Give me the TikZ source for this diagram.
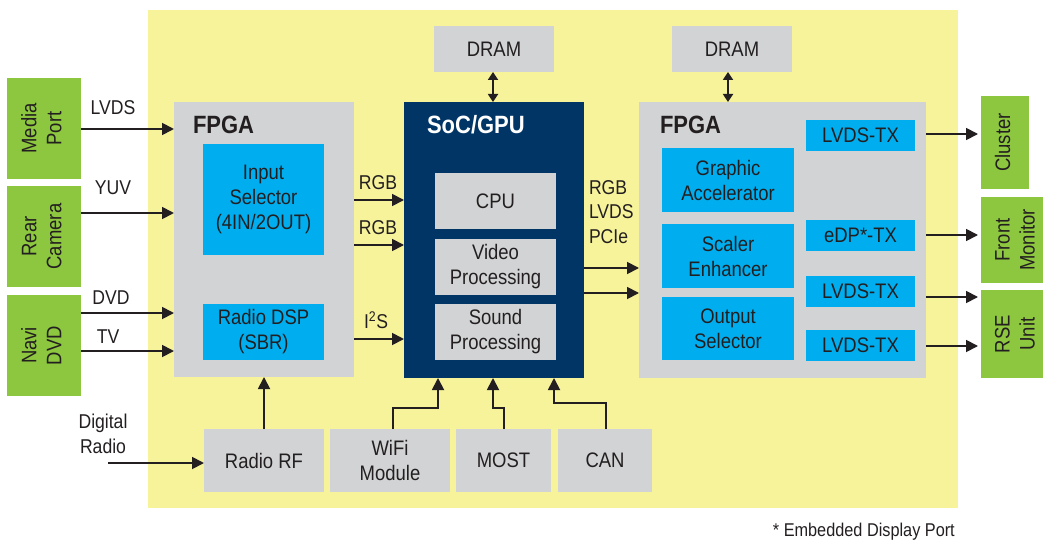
\documentclass[tikz,border=0pt]{standalone}
\usepackage{fontspec}
\setmainfont{Liberation Sans}[FakeStretch=0.88]
\usetikzlibrary{arrows.meta}
\definecolor{bgyellow}{RGB}{247,243,155}
\definecolor{boxgray}{RGB}{209,211,212}
\definecolor{boxblue}{RGB}{0,174,239}
\definecolor{boxgreen}{RGB}{141,198,63}
\definecolor{socnavy}{RGB}{0,53,102}
\definecolor{txt}{RGB}{35,31,32}
\newcommand\boxfont{\fontsize{21pt}{25pt}\selectfont}
\newcommand\lblfont{\fontsize{20pt}{24.5pt}\selectfont}
\newcommand\titlefont{\fontsize{25pt}{30pt}\selectfont\bfseries}
\newcommand\rot[1]{\rotatebox{90}{\begin{tabular}{@{}c@{}}#1\end{tabular}}}
\tikzset{
  base/.style={inner sep=0pt, outer sep=0pt, align=center, text=txt, font=\boxfont},
  graybox/.style={base, fill=boxgray},
  bluebox/.style={base, fill=boxblue},
  greenbox/.style={base, fill=boxgreen},
  lbl/.style={inner sep=0pt, outer sep=0pt, text=txt, font=\lblfont},
  title/.style={inner sep=0pt, outer sep=0pt, text=txt, font=\titlefont, anchor=west},
  arr/.style={line width=1.8pt, draw=txt, -{Triangle[length=12pt,width=12pt]}},
  darr/.style={line width=1.8pt, draw=txt, {Triangle[length=8pt,width=10pt]}-{Triangle[length=8pt,width=10pt]}},
}
\begin{document}
\begin{tikzpicture}[x=1pt,y=-1pt]
\useasboundingbox (0,0) rectangle (1043,540);
% background
\node[fill=bgyellow, minimum width=810pt, minimum height=498pt, inner sep=0pt] (bg) at (553,259) {};

% left green sources
\node[greenbox, minimum width=74pt, minimum height=101pt] (media) at (44,128.5) {\rot{Media\\Port}};
\node[greenbox, minimum width=74pt, minimum height=101pt] (rear) at (44,236.5) {\rot{Rear\\Camera}};
\node[greenbox, minimum width=74pt, minimum height=101pt] (navi) at (44,345.5) {\rot{Navi\\DVD}};

% left FPGA
\node[graybox, minimum width=180pt, minimum height=275pt] (fpgaL) at (264,239.5) {};
\node[title] (fpgaLt) at (193,125) {FPGA};
\node[bluebox, minimum width=121pt, minimum height=111pt] (insel) at (263.5,199.5) {Input\\Selector\\(4IN/2OUT)};
\node[bluebox, minimum width=121pt, minimum height=56pt] (rdsp) at (263.5,332) {Radio DSP\\(SBR)};

% SoC
\node[base, fill=socnavy, minimum width=180pt, minimum height=276pt] (soc) at (494,240) {};
\node[title, text=white] (soct) at (427,125) {SoC/GPU};
\node[graybox, minimum width=121pt, minimum height=56pt] (cpu) at (495.5,201) {CPU};
\node[graybox, minimum width=121pt, minimum height=56pt] (video) at (495.5,267) {Video\\Processing};
\node[graybox, minimum width=121pt, minimum height=56pt] (sound) at (495.5,332) {Sound\\Processing};

% DRAMs
\node[graybox, minimum width=120pt, minimum height=46pt] (dram1) at (494,49) {DRAM};
\node[graybox, minimum width=120pt, minimum height=46pt] (dram2) at (732,49) {DRAM};

% right FPGA
\node[graybox, minimum width=287pt, minimum height=276pt] (fpgaR) at (782.5,240) {};
\node[title] (fpgaRt) at (660,125) {FPGA};
\node[bluebox, minimum width=132pt, minimum height=64pt] (gfx) at (728,180) {Graphic\\Accelerator};
\node[bluebox, minimum width=132pt, minimum height=64pt] (scaler) at (728,256) {Scaler\\Enhancer};
\node[bluebox, minimum width=132pt, minimum height=63pt] (outsel) at (728,328.5) {Output\\Selector};
\node[bluebox, minimum width=109pt, minimum height=31pt] (tx1) at (860.5,135.5) {LVDS-TX};
\node[bluebox, minimum width=109pt, minimum height=31pt] (edp) at (860.5,235.5) {eDP*-TX};
\node[bluebox, minimum width=109pt, minimum height=31pt] (tx2) at (860.5,291.5) {LVDS-TX};
\node[bluebox, minimum width=109pt, minimum height=31pt] (tx3) at (860.5,345.5) {LVDS-TX};

% right green sinks
\node[greenbox, minimum width=48pt, minimum height=93pt] (cluster) at (1005,142.5) {\rot{Cluster}};
\node[greenbox, minimum width=72pt, minimum height=86pt] (front) at (1017,240) {\rot{Front\\Monitor}};
\node[greenbox, minimum width=72pt, minimum height=88pt] (rse) at (1017,334) {\rot{RSE\\Unit}};

% bottom boxes
\node[graybox, minimum width=120pt, minimum height=63pt] (rf) at (264,460.5) {Radio RF};
\node[graybox, minimum width=120pt, minimum height=63pt] (wifi) at (390,460.5) {WiFi\\Module};
\node[graybox, minimum width=95pt, minimum height=63pt] (most) at (503.5,460.5) {MOST};
\node[graybox, minimum width=94pt, minimum height=63pt] (can) at (605,460.5) {CAN};

% helper coordinates
\coordinate (yLVDS) at (0,129);
\coordinate (yYUV) at (0,213);
\coordinate (yDVD) at (0,313);
\coordinate (yTV) at (0,351);
\coordinate (yRGB1) at (0,200);
\coordinate (yRGB2) at (0,245);
\coordinate (yI2S) at (0,339);
\coordinate (yO1) at (0,268);
\coordinate (yO2) at (0,293);
\coordinate (yC) at (0,134);
\coordinate (yF) at (0,235);
\coordinate (yR1) at (0,297);
\coordinate (yR2) at (0,346);
\coordinate (dr) at (108,463);
\coordinate (xD1) at (493,0);
\coordinate (xD2) at (728,0);

% input arrows
\draw[arr] (media.east |- yLVDS) -- (fpgaL.west |- yLVDS);
\draw[arr] (rear.east |- yYUV) -- (fpgaL.west |- yYUV);
\draw[arr] (navi.east |- yDVD) -- (fpgaL.west |- yDVD);
\draw[arr] (navi.east |- yTV) -- (fpgaL.west |- yTV);
\node[lbl] (lLVDS) at (113,108) {LVDS};
\node[lbl] (lYUV) at (113,188) {YUV};
\node[lbl] (lDVD) at (111,298) {DVD};
\node[lbl] (lTV) at (108,337) {TV};

% FPGA -> SoC
\draw[arr] (fpgaL.east |- yRGB1) -- (soc.west |- yRGB1);
\draw[arr] (fpgaL.east |- yRGB2) -- (soc.west |- yRGB2);
\draw[arr] (fpgaL.east |- yI2S) -- (soc.west |- yI2S);
\node[lbl] (lRGB1) at (378,183) {RGB};
\node[lbl] (lRGB2) at (378,228) {RGB};
\node[lbl] (lI2S) at (376,320) {I\textsuperscript{2}S};

% SoC -> FPGA right
\draw[arr] (soc.east |- yO1) -- (fpgaR.west |- yO1);
\draw[arr] (soc.east |- yO2) -- (fpgaR.west |- yO2);
\node[lbl, anchor=west, align=left] (lOut) at (589,212) {RGB\\LVDS\\PCIe};

% DRAM links
\draw[darr] (dram1.south -| xD1) -- (soc.north -| xD1);
\draw[darr] (dram2.south -| xD2) -- (fpgaR.north -| xD2);

% outputs
\draw[arr] (fpgaR.east |- yC) -- ([xshift=-3pt]cluster.west |- yC);
\draw[arr] (fpgaR.east |- yF) -- ([xshift=-3pt]front.west |- yF);
\draw[arr] (fpgaR.east |- yR1) -- ([xshift=-3pt]rse.west |- yR1);
\draw[arr] (fpgaR.east |- yR2) -- ([xshift=-3pt]rse.west |- yR2);

% bottom links
\draw[arr] (dr) -- (rf.west |- dr);
\node[lbl, align=center] (ldr) at (103,434) {Digital\\Radio};
\draw[arr] (rf.north) -- (fpgaL.south);
\draw[arr] (wifi.north -| 393,0) |- (438,408) -- (soc.south -| 438,0);
\draw[arr] (most.north -| 504,0) |- (493,408) -- (soc.south -| 493,0);
\draw[arr] (can.north -| 606,0) |- (554,403) -- (soc.south -| 554,0);

% footnote
\node[inner sep=0pt, text=txt, font=\fontsize{18.5pt}{22pt}\selectfont, anchor=east] (fn) at (955,532) {* Embedded Display Port};
\end{tikzpicture}
\end{document}
